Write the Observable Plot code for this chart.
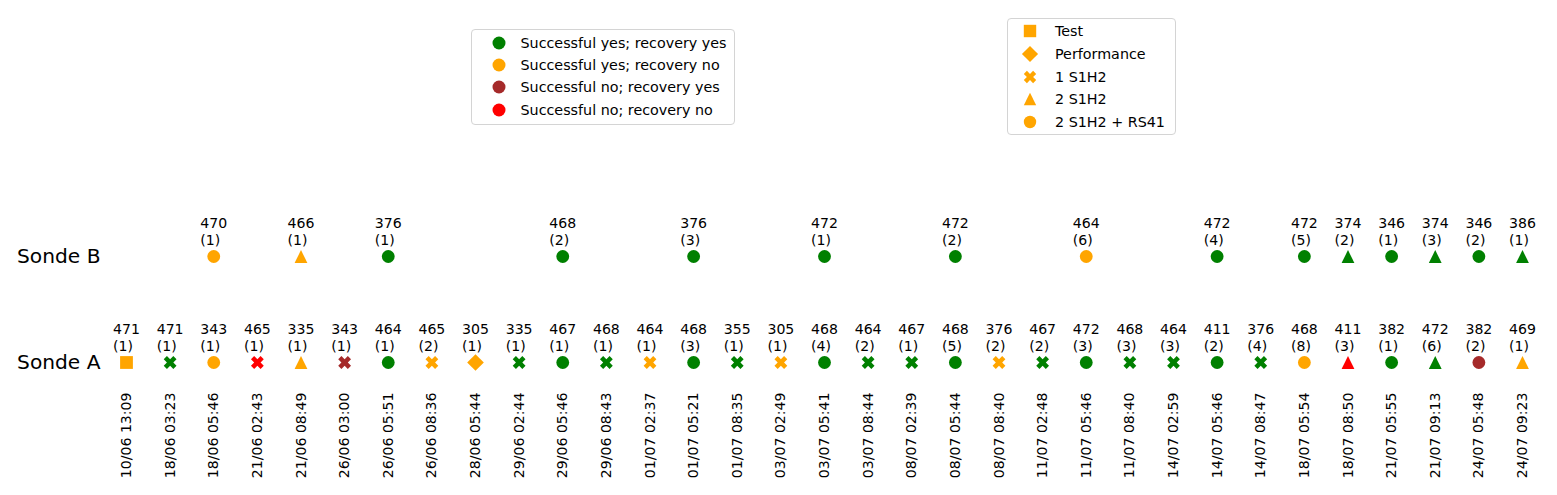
<!DOCTYPE html>
<html><head><meta charset="utf-8">
<script src="https://cdn.jsdelivr.net/npm/d3@7"></script>
<script src="https://cdn.jsdelivr.net/npm/@observablehq/plot@0.6"></script>
<style>
body{margin:0;background:#fff;}
#wrap{position:relative;width:1557px;height:495px;overflow:hidden;}
.legend{position:absolute;border:1px solid #d4d4d4;border-radius:4px;background:#fff;font-family:"DejaVu Sans",sans-serif;font-size:14.3px;color:#000;box-sizing:border-box;}
.legend svg{position:absolute;overflow:visible;}
.legend .lab{position:absolute;line-height:1;white-space:nowrap;transform:translateY(-50%);}
</style></head>
<body><div id="wrap"></div>
<script>
// ---- data ----
const dates = ["10/06 13:09","18/06 03:23","18/06 05:46","21/06 02:43","21/06 08:49","26/06 03:00","26/06 05:51","26/06 08:36","28/06 05:44","29/06 02:44","29/06 05:46","29/06 08:43","01/07 02:37","01/07 05:21","01/07 08:35","03/07 02:49","03/07 05:41","03/07 08:44","08/07 02:39","08/07 05:44","08/07 08:40","11/07 02:48","11/07 05:46","11/07 08:40","14/07 02:59","14/07 05:46","14/07 08:47","18/07 05:54","18/07 08:50","21/07 05:55","21/07 09:13","24/07 05:48","24/07 09:23"];
const sondeA_value = [471,471,343,465,335,343,464,465,305,335,467,468,464,468,355,305,468,464,467,468,376,467,472,468,464,411,376,468,411,382,472,382,469];
const sondeA_count = [1,1,1,1,1,1,1,2,1,1,1,1,1,3,1,1,4,2,1,5,2,2,3,3,3,2,4,8,3,1,6,2,1];
const sondeA_status = ["yn","yy","yn","nn","yn","ny","yy","yn","yn","yy","yy","yy","yn","yy","yy","yn","yy","yy","yy","yy","yn","yy","yy","yy","yy","yy","yy","yn","nn","yy","yy","ny","yn"];
const sondeA_kind = ["Test","1 S1H2","2 S1H2 + RS41","1 S1H2","2 S1H2","1 S1H2","2 S1H2 + RS41","1 S1H2","Performance","1 S1H2","2 S1H2 + RS41","1 S1H2","1 S1H2","2 S1H2 + RS41","1 S1H2","1 S1H2","2 S1H2 + RS41","1 S1H2","1 S1H2","2 S1H2 + RS41","1 S1H2","1 S1H2","2 S1H2 + RS41","1 S1H2","1 S1H2","2 S1H2 + RS41","1 S1H2","2 S1H2 + RS41","2 S1H2","2 S1H2 + RS41","2 S1H2","2 S1H2 + RS41","2 S1H2"];

const sondeB_date = ["18/06 05:46","21/06 08:49","26/06 05:51","29/06 05:46","01/07 05:21","03/07 05:41","08/07 05:44","11/07 05:46","14/07 05:46","18/07 05:54","18/07 08:50","21/07 05:55","21/07 09:13","24/07 05:48","24/07 09:23"];
const sondeB_value = [470,466,376,468,376,472,472,464,472,472,374,346,374,346,386];
const sondeB_count = [1,1,1,2,3,1,2,6,4,5,2,1,3,2,1];
const sondeB_status = ["yn","yn","yy","yy","yy","yy","yy","yn","yy","yy","yy","yy","yy","yy","yy"];
const sondeB_kind = ["2 S1H2 + RS41","2 S1H2","2 S1H2 + RS41","2 S1H2 + RS41","2 S1H2 + RS41","2 S1H2 + RS41","2 S1H2 + RS41","2 S1H2 + RS41","2 S1H2 + RS41","2 S1H2 + RS41","2 S1H2","2 S1H2 + RS41","2 S1H2","2 S1H2 + RS41","2 S1H2"];

const statusCodes = ["yy","yn","ny","nn"];
const statusLabels = ["Successful yes; recovery yes","Successful yes; recovery no","Successful no; recovery yes","Successful no; recovery no"];
const statusColors = ["green","orange","brown","red"];
const kindLabels = ["Test","Performance","1 S1H2","2 S1H2","2 S1H2 + RS41"];
const sondes = ["Sonde B","Sonde A"];

// ---- marker shapes (matplotlib-like) ----
const unit = size => Math.sqrt(size / Math.PI);
const symSquare = {draw(c, s){const h = unit(s); c.rect(-h, -h, 2*h, 2*h);}};
const symDiamond = {draw(c, s){const h = unit(s)*1.3; c.moveTo(0,-h); c.lineTo(h,0); c.lineTo(0,h); c.lineTo(-h,0); c.closePath();}};
const symX = {draw(c, s){const k = unit(s)/2; [[-1,-2],[0,-1],[1,-2],[2,-1],[1,0],[2,1],[1,2],[0,1],[-1,2],[-2,1],[-1,0],[-2,-1]].forEach(([a,b],i)=> i ? c.lineTo(a*k,b*k) : c.moveTo(a*k,b*k)); c.closePath();}};
const symTriangle = {draw(c, s){const h = unit(s); c.moveTo(0,-h); c.lineTo(h,h); c.lineTo(-h,h); c.closePath();}};
const symCircle = {draw(c, s){const h = unit(s); c.moveTo(h,0); c.arc(0,0,h,0,2*Math.PI); c.closePath();}};
const kindSymbols = [symSquare, symDiamond, symX, symTriangle, symCircle];

const statusOf = code => statusLabels[statusCodes.indexOf(code)];
const rows = [
  ...dates.map((d,i)=>({date:d, sonde:"Sonde A", value:sondeA_value[i], count:sondeA_count[i], status:statusOf(sondeA_status[i]), kind:sondeA_kind[i]})),
  ...sondeB_date.map((d,i)=>({date:d, sonde:"Sonde B", value:sondeB_value[i], count:sondeB_count[i], status:statusOf(sondeB_status[i]), kind:sondeB_kind[i]}))
];

const chart = Plot.plot({
  width: 1557, height: 495,
  marginLeft: 106, marginBottom: 108, marginTop: 0, marginRight: 0,
  style: {fontFamily: "DejaVu Sans", fontSize: "14px", background: "white", color: "black"},
  x: {type: "point", domain: dates, range: [126, 1522], padding: 0, round: false},
  y: {type: "point", domain: sondes, range: [256, 362], padding: 0, round: false},
  color: {domain: statusLabels, range: statusColors},
  symbol: {domain: kindLabels, range: kindSymbols},
  marks: [
    Plot.axisX({anchor: "bottom", tickSize: 0, tickPadding: 5, tickRotate: -90, label: null, fontSize: 14.1}),
    Plot.axisY({anchor: "left", tickSize: 0, tickPadding: 6, label: null, fontSize: 20.2}),
    Plot.dot(rows, {x: "date", y: "sonde", fill: "status", symbol: "kind", r: 6.4, stroke: "none"}),
    Plot.text(rows, {x: "date", y: "sonde", text: d => String(d.value), dy: -33, fontSize: 14.1, textAnchor: "middle", lineAnchor: "middle"}),
    Plot.text(rows, {x: "date", y: "sonde", text: d => `(${d.count})`, dy: -16, dx: -13.4, fontSize: 14.1, textAnchor: "start", lineAnchor: "middle"})
  ]
});
const wrap = document.getElementById("wrap");
wrap.appendChild(chart);

// ---- legends ----
function symPath(sym, r){const p = d3.path(); sym.draw(p, r*r*Math.PI); return p.toString();}
function legend(box, items){
  const div = document.createElement("div");
  div.className = "legend";
  Object.assign(div.style, {left: box.x+"px", top: box.y+"px", width: box.w+"px", height: box.h+"px"});
  items.forEach((it, i) => {
    const cy = box.first + i*box.step;
    const svg = d3.create("svg").attr("width", 1).attr("height", 1)
      .style("left", box.mx+"px").style("top", cy+"px");
    svg.append("path").attr("d", symPath(it.sym, it.r || 6.2)).attr("fill", it.color);
    div.appendChild(svg.node());
    const lab = document.createElement("span");
    lab.className = "lab"; lab.textContent = it.label;
    Object.assign(lab.style, {left: box.tx+"px", top: cy+"px"});
    div.appendChild(lab);
  });
  wrap.appendChild(div);
}
legend({x: 471, y: 29, w: 264, h: 96, first: 13, step: 22.2, mx: 27, tx: 48.5},
  statusLabels.map((l,i)=>({label:l, color:statusColors[i], sym:symCircle, r:6.5})));
legend({x: 1007, y: 18, w: 169, h: 117, first: 12, step: 22.75, mx: 21.5, tx: 47},
  kindLabels.map((l,i)=>({label:l, color:"orange", sym:kindSymbols[i]})));
</script>
</body></html>
